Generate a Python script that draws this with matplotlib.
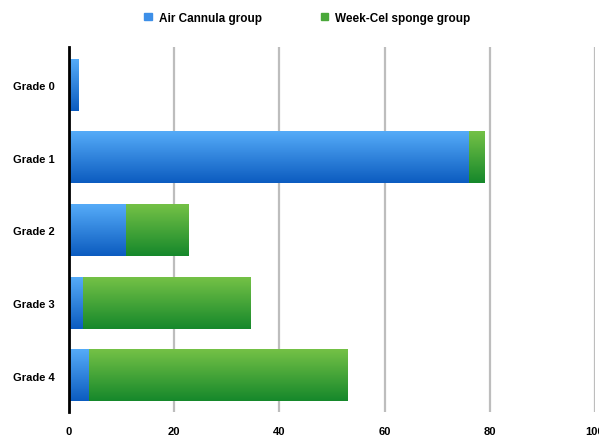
import matplotlib
matplotlib.use('Agg')
import matplotlib.pyplot as plt
import numpy as np
from matplotlib.colors import LinearSegmentedColormap
from matplotlib.patches import Patch

plt.rcParams['font.family'] = ['Liberation Sans', 'DejaVu Sans']

grades = ['Grade 0', 'Grade 1', 'Grade 2', 'Grade 3', 'Grade 4']
air = [1.8, 76.1, 10.8, 2.7, 3.8]
weekcel = [0, 2.9, 11.9, 31.9, 49.2]
series_names = ['Air Cannula group', 'Week-Cel sponge group']
xticks = [0, 20, 40, 60, 80, 100]

blue_cm = LinearSegmentedColormap.from_list('b', ['#55abf8', '#0c5cc0'])
green_cm = LinearSegmentedColormap.from_list('g', ['#74c146', '#16882b'])

fig = plt.figure(figsize=(5.99, 4.39), dpi=100)
ax = fig.add_axes([69/599, 26/439, 526/599, 365/439])

y = np.arange(len(grades))
h = 0.71
b1 = ax.barh(y, air, height=h, color='none', edgecolor='none')
b2 = ax.barh(y, weekcel, left=air, height=h, color='none', edgecolor='none')

# gradient fill for each bar
grad = np.linspace(0, 1, 64).reshape(-1, 1)
for bars, cm in [(b1, blue_cm), (b2, green_cm)]:
    for p in bars:
        w = p.get_width()
        if w <= 0:
            continue
        x0 = p.get_x()
        y0 = p.get_y()
        ax.imshow(grad, cmap=cm, aspect='auto', origin='upper',
                  extent=(x0, x0 + w, y0 + p.get_height(), y0), zorder=2)

ax.set_xlim(0, 100)
ax.set_ylim(4.5, -0.52)
ax.set_xticks(xticks)
ax.set_yticks(y)
ax.set_yticklabels(grades)
ax.grid(axis='x', color='#bdbdbd', linewidth=1.6, zorder=0)
ax.set_axisbelow(True)
for s in ['top', 'right', 'bottom']:
    ax.spines[s].set_visible(False)
ax.spines['left'].set_linewidth(2)
ax.spines['left'].set_color('black')
ax.spines['left'].set_zorder(3)
ax.tick_params(axis='both', length=0, labelsize=8)
ax.tick_params(axis='x', pad=10)
ax.tick_params(axis='y', pad=10)
for t in ax.get_xticklabels() + ax.get_yticklabels():
    t.set_fontweight('bold')

handles = [Patch(color='#3d8fe8'), Patch(color='#4aa83a')]
fig.legend(handles, series_names, loc='center', bbox_to_anchor=(0.513, 0.957),
           ncol=2, frameon=False, prop={'weight': 'bold', 'size': 8.5},
           handlelength=0.6, handleheight=0.6, handletextpad=0.6, columnspacing=5)

fig.savefig('out.png', dpi=100)
